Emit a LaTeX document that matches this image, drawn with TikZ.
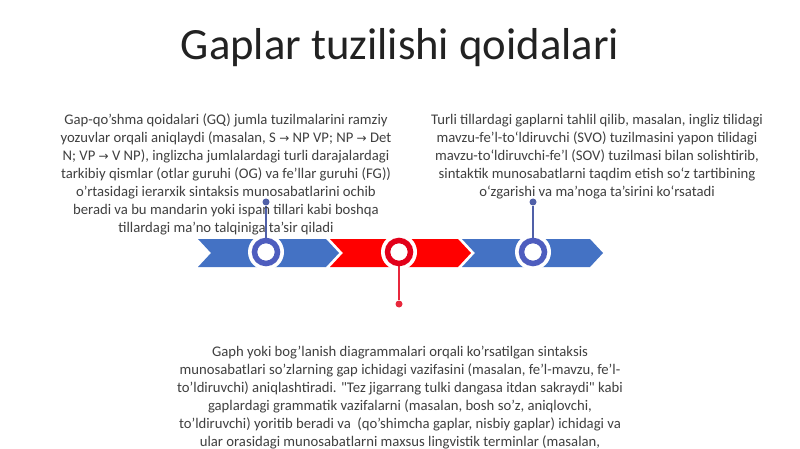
\documentclass[tikz,border=0pt]{standalone}
\usepackage{fontspec}
\setmainfont{Carlito}
\newfontfamily\symfont{DejaVu Sans}
\newcommand{\arr}{{\symfont\fontsize{12}{14}\selectfont →}}
\definecolor{bandblue}{HTML}{4472C4}
\definecolor{ringblue}{HTML}{4E5DBE}
\definecolor{lineblue}{HTML}{5060A8}
\definecolor{bandred}{HTML}{FF0000}
\definecolor{ringred}{HTML}{E2001A}
\definecolor{linered}{HTML}{E8283C}
\definecolor{txt}{HTML}{404040}
\definecolor{ttl}{HTML}{222222}
\tikzset{
  body/.style={text=txt, align=center, font=\fontsize{14.7}{17.9}\selectfont, inner sep=0pt},
  halo/.style={circle, fill=white, minimum size=36pt, inner sep=0pt},
  ring/.style={circle, draw=#1, line width=5.5pt, fill=white, minimum size=23pt, inner sep=0pt},
  dot/.style={circle, fill=#1, minimum size=7pt, inner sep=0pt},
  stem/.style={draw=#1, line width=1.6pt}
}
\begin{document}
\begin{tikzpicture}[x=1pt,y=-1pt]
\useasboundingbox (0,0) rectangle (800,449);
\fill[white] (0,0) rectangle (800,449);
% title
\node[text=ttl, font=\fontsize{44.7}{52}\selectfont, inner sep=0pt] (title) at (400,48) {Gaplar tuzilishi qoidalari};
% band segments
\foreach \x/\c in {198/bandblue, 330/bandred, 462/bandblue}{
  \fill[\c] (\x,239) -- (\x+128,239) -- (\x+141,253) -- (\x+128,267) -- (\x,267) -- (\x+13,253) -- cycle;
}
% dots
\node[dot=lineblue] (d1) at (266,202) {};
\node[dot=linered] (d2) at (399,304) {};
\node[dot=lineblue] (d3) at (533,202) {};
% circles
\coordinate (c1) at (266,252);
\coordinate (c2) at (399,252);
\coordinate (c3) at (533,252);
\node[halo] (h1) at (c1) {};
\node[halo] (h2) at (c2) {};
\node[halo] (h3) at (c3) {};
\draw[stem=lineblue] (h1.center) -- (d1);
\draw[stem=lineblue] (h3.center) -- (d3);
\draw[stem=linered] (h2.center) -- (d2);
\node[ring=ringblue] (r1) at (c1) {};
\node[ring=ringred] (r2) at (c2) {};
\node[ring=ringblue] (r3) at (c3) {};
% texts
\node[body, anchor=north] (t1) at (226,114) {Gap-qo'shma qoidalari (GQ) jumla tuzilmalarini ramziy\\
yozuvlar orqali aniqlaydi (masalan, S \arr{} NP VP; NP \arr{} Det\\
N; VP \arr{} V NP), inglizcha jumlalardagi turli darajalardagi\\
tarkibiy qismlar (otlar guruhi (OG) va fe'llar guruhi (FG))\\
o'rtasidagi ierarxik sintaksis munosabatlarini ochib\\
beradi va bu mandarin yoki ispan tillari kabi boshqa\\
tillardagi ma'no talqiniga ta'sir qiladi};
\node[body, anchor=north] (t2) at (597,114) {Turli tillardagi gaplarni tahlil qilib, masalan, ingliz tilidagi\\
mavzu-fe'l-to`ldiruvchi (SVO) tuzilmasini yapon tilidagi\\
mavzu-to`ldiruvchi-fe'l (SOV) tuzilmasi bilan solishtirib,\\
sintaktik munosabatlarni taqdim etish so`z tartibining\\
o`zgarishi va ma'noga ta'sirini ko`rsatadi};
\node[body, anchor=north] (t3) at (400,346) {Gaph yoki bog'lanish diagrammalari orqali ko'rsatilgan sintaksis\\
munosabatlari so'zlarning gap ichidagi vazifasini (masalan, fe'l-mavzu, fe'l-\\
to'ldiruvchi) aniqlashtiradi. \textquotedbl Tez jigarrang tulki dangasa itdan sakraydi\textquotedbl{} kabi\\
gaplardagi grammatik vazifalarni (masalan, bosh so'z, aniqlovchi,\\
to'ldiruvchi) yoritib beradi va~ (qo'shimcha gaplar, nisbiy gaplar) ichidagi va\\
ular orasidagi munosabatlarni maxsus lingvistik terminlar (masalan,};
\end{tikzpicture}
\end{document}
